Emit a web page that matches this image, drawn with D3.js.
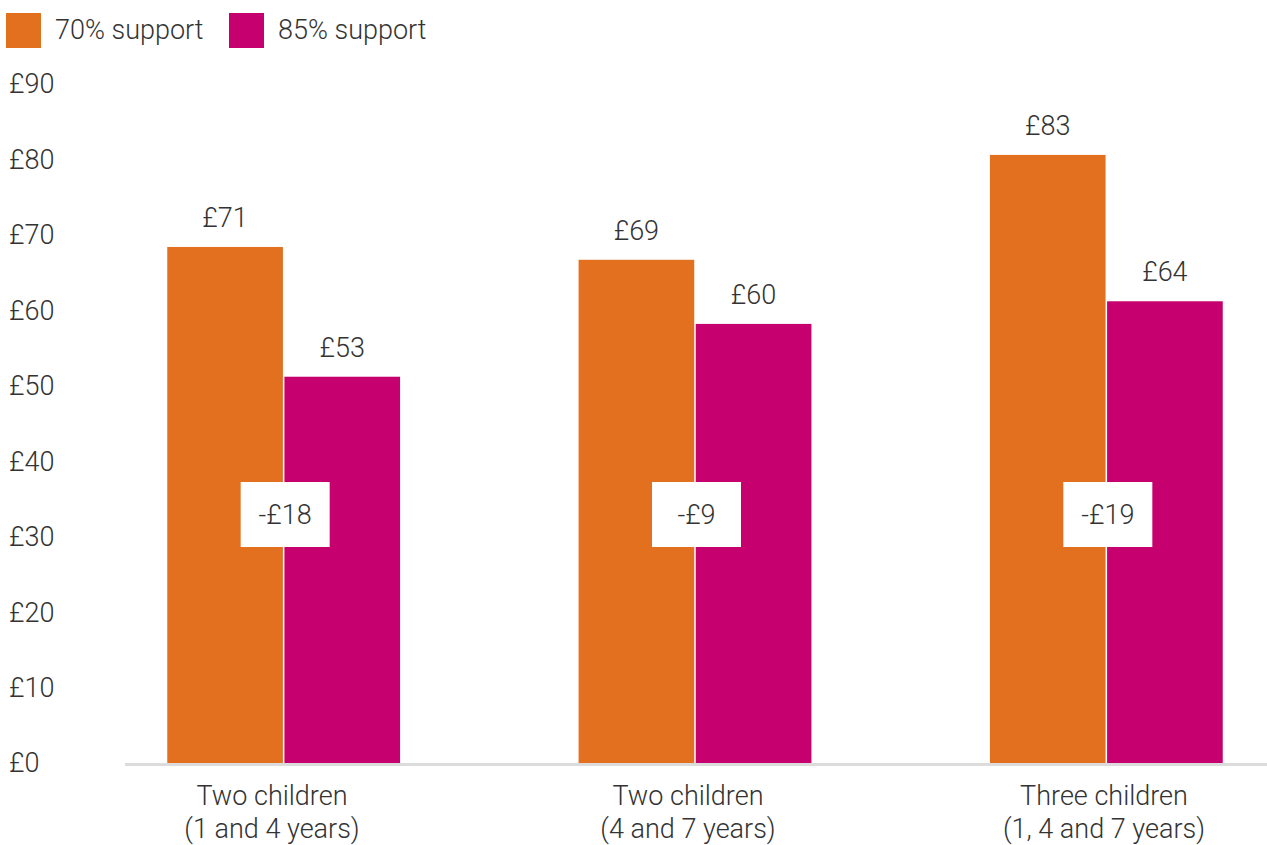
<!DOCTYPE html>
<html lang="en">
<head>
  <meta charset="UTF-8">
  <title>Support comparison</title>
  <style>
  body { margin: 0; background: #fff; }
  text { font-family: Roboto, "Liberation Sans", sans-serif; font-weight: 300; fill: #333; }
  </style>
</head>
<body>
  <script src="https://d3js.org/d3.v7.min.js"></script>
  <script type="text/javascript">

    // data
    var categories = ["Two children|(1 and 4 years)", "Two children|(4 and 7 years)", "Three children|(1, 4 and 7 years)"];
    var seriesNames = ["70% support", "85% support"];
    var values70 = [68.4, 66.7, 80.6];
    var values85 = [51.2, 58.2, 61.2];
    var labels70 = ["£71", "£69", "£83"];
    var labels85 = ["£53", "£60", "£64"];
    var diffLabels = ["-£18", "-£9", "-£19"];
    var yTicks = [0, 10, 20, 30, 40, 50, 60, 70, 80, 90];

    var width = 1267;
    var height = 845;
    var colors = ["#e3701f", "#c6006e"];
    var fs = "27px";

    var svg = d3.select("body")
        .append("svg")
          .attr("width", width)
          .attr("height", height);

    var x = d3.scaleBand()
        .domain(categories)
        .range([78, 1312])
        .paddingInner(0.434)
        .paddingOuter(0.217);

    // category labels sit on a slightly different spacing than the bars
    var xl = d3.scaleBand()
        .domain(categories)
        .range([64, 1312]);

    var x1 = d3.scaleBand()
        .domain(seriesNames)
        .range([0, x.bandwidth()])
        .paddingInner(0.013);

    var y = d3.scaleLinear()
        .domain([0, 90])
        .range([763, 84]);

    // y tick labels
    svg.append("g")
      .selectAll("text")
      .data(yTicks)
      .enter()
      .append("text")
        .attr("x", 9)
        .attr("y", function(d){ return y(d); })
        .attr("dy", "0.35em")
        .style("font-size", fs)
        .text(function(d){ return "£" + d; });

    // baseline
    svg.append("line")
        .attr("x1", 125)
        .attr("x2", width)
        .attr("y1", y(0) + 1.5)
        .attr("y2", y(0) + 1.5)
        .attr("stroke", "#dcdcdc")
        .attr("stroke-width", 3);

    var rows = categories.map(function(c, i){
      return { cat: c, vals: [
        { s: seriesNames[0], v: values70[i], label: labels70[i] },
        { s: seriesNames[1], v: values85[i], label: labels85[i] }
      ], diff: diffLabels[i] };
    });

    var groups = svg.append("g")
      .selectAll("g")
      .data(rows)
      .enter()
      .append("g")
        .attr("transform", function(d){ return "translate(" + x(d.cat) + ",0)"; });

    groups.selectAll("rect")
      .data(function(d){ return d.vals; })
      .enter()
      .append("rect")
        .attr("x", function(d){ return x1(d.s); })
        .attr("y", function(d){ return y(d.v); })
        .attr("width", x1.bandwidth())
        .attr("height", function(d){ return y(0) - y(d.v); })
        .attr("fill", function(d, i){ return colors[i]; });

    groups.selectAll("text.val")
      .data(function(d){ return d.vals; })
      .enter()
      .append("text")
        .attr("class", "val")
        .attr("x", function(d){ return x1(d.s) + x1.bandwidth() / 2; })
        .attr("y", function(d){ return y(d.v) - 20; })
        .attr("text-anchor", "middle")
        .style("font-size", fs)
        .text(function(d){ return d.label; });

    // difference boxes
    groups.append("rect")
        .attr("x", x.bandwidth() / 2 - 43)
        .attr("y", 482)
        .attr("width", 89)
        .attr("height", 65)
        .attr("fill", "#fff");

    groups.append("text")
        .attr("x", x.bandwidth() / 2 + 1.5)
        .attr("y", 514.5)
        .attr("dy", "0.35em")
        .attr("text-anchor", "middle")
        .style("font-size", fs)
        .text(function(d){ return d.diff; });

    // category labels
    var cat = svg.append("g")
      .selectAll("text")
      .data(categories)
      .enter()
      .append("text")
        .attr("text-anchor", "middle")
        .style("font-size", fs);
    cat.selectAll("tspan")
      .data(function(d){ return d.split("|").map(function(t){ return { c: d, t: t }; }); })
      .enter()
      .append("tspan")
        .attr("x", function(d){ return xl(d.c) + xl.bandwidth() / 2; })
        .attr("y", function(d, i){ return 805 + i * 33; })
        .text(function(d){ return d.t; });

    // legend
    var legend = svg.append("g")
      .selectAll("g")
      .data(seriesNames)
      .enter()
      .append("g")
        .attr("transform", function(d, i){ return "translate(" + (6 + i * 223) + ",13)"; });

    legend.append("rect")
        .attr("width", 35)
        .attr("height", 35)
        .attr("fill", function(d, i){ return colors[i]; });

    legend.append("text")
        .attr("x", 49)
        .attr("y", 17)
        .attr("dy", "0.35em")
        .style("font-size", fs)
        .text(function(d){ return d; });
  </script>
</body>
</html>
